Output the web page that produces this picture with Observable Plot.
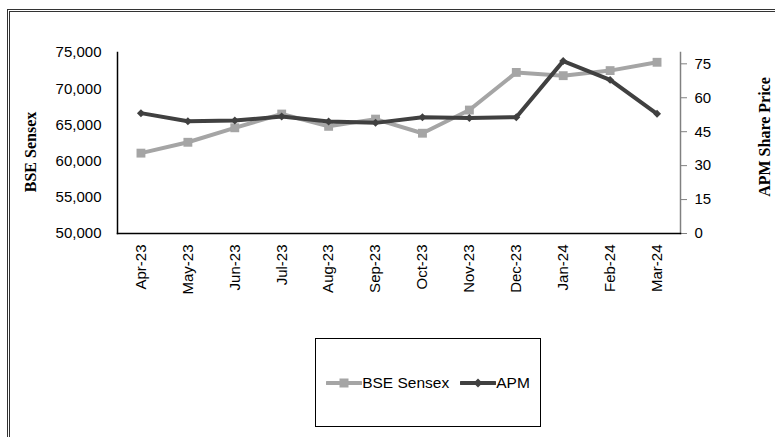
<!DOCTYPE html>
<html><head><meta charset="utf-8">
<script src="https://cdn.jsdelivr.net/npm/d3@7"></script>
<script src="https://cdn.jsdelivr.net/npm/@observablehq/plot@0.6"></script>
<style>
body{margin:0;background:#fff;}
#wrap{position:relative;width:775px;height:437px;overflow:hidden;font-family:"Liberation Sans",Arial,sans-serif;background:#fff;}
#wrap svg.plot{position:absolute;left:0;top:0;}
#frame{position:absolute;left:7px;top:9px;width:800px;height:500px;border-top:3px double #333;border-left:3px double #333;box-sizing:border-box;}
.ytitle{position:absolute;font-family:"Liberation Serif","DejaVu Serif",serif;font-weight:bold;font-size:16px;white-space:nowrap;transform:translate(-50%,-50%) rotate(-90deg);color:#000;}
#legend{position:absolute;left:315px;top:338px;width:226px;height:89px;border:1.5px solid #000;box-sizing:border-box;display:flex;align-items:center;justify-content:center;font-size:15.5px;color:#000;gap:0;}
#legend .item{display:flex;align-items:center;}
#legend svg{display:block;}
</style></head><body><div id="wrap"><div id="frame"></div></div>
<script>
const months = ["Apr-23","May-23","Jun-23","Jul-23","Aug-23","Sep-23","Oct-23","Nov-23","Dec-23","Jan-24","Feb-24","Mar-24"];
const bseValues = [61100, 62600, 64600, 66500, 64800, 65800, 63850, 67050, 72250, 71800, 72500, 73650];
const apmValues = [53.2, 49.6, 49.9, 51.7, 49.5, 48.9, 51.4, 51.1, 51.4, 76.2, 67.9, 52.9];
const leftTicks = [50000, 55000, 60000, 65000, 70000, 75000];
const rightTicks = [0, 15, 30, 45, 60, 75];
const seriesNames = ["BSE Sensex", "APM"];
const leftTitle = "BSE Sensex";
const rightTitle = "APM Share Price";

const LEFT_MIN = 50000, LEFT_MAX = 75000, RIGHT_MIN = 0, RIGHT_MAX = 80;
const toLeft = v => LEFT_MIN + (v - RIGHT_MIN) / (RIGHT_MAX - RIGHT_MIN) * (LEFT_MAX - LEFT_MIN);
const fromLeft = d => RIGHT_MIN + (d - LEFT_MIN) / (LEFT_MAX - LEFT_MIN) * (RIGHT_MAX - RIGHT_MIN);

const bse = months.map((m, i) => ({month: m, value: bseValues[i]}));
const apm = months.map((m, i) => ({month: m, value: toLeft(apmValues[i])}));

const BSE_COLOR = "#a5a5a5", APM_COLOR = "#404040";

const chart = Plot.plot({
  width: 775, height: 437,
  marginLeft: 117, marginRight: 95, marginTop: 52, marginBottom: 204,
  style: {fontFamily: '"Liberation Sans", Arial, sans-serif', fontSize: "15px", color: "#000", background: "transparent", overflow: "visible"},
  x: {type: "point", domain: months, padding: 0.5, round: false},
  y: {domain: [LEFT_MIN, LEFT_MAX]},
  marks: [
    Plot.axisY({ticks: leftTicks, tickSize: 0, tickPadding: 16, tickFormat: d3.format(","), label: null, fontSize: 15}),
    Plot.axisY({anchor: "right", ticks: rightTicks.map(toLeft), tickFormat: d => Math.round(fromLeft(d)), tickSize: 6, tickPadding: 8, stroke: "#808080", label: null, fontSize: 15}),
    Plot.axisX({tickRotate: -90, tickSize: 0, tickPadding: 11, label: null, fontSize: 15}),
    Plot.frame({anchor: "left", stroke: "#000", strokeWidth: 1.5}),
    Plot.frame({anchor: "right", stroke: "#808080", strokeWidth: 1.5}),
    Plot.frame({anchor: "bottom", stroke: "#000", strokeWidth: 1.5}),
    Plot.line(bse, {x: "month", y: "value", stroke: BSE_COLOR, strokeWidth: 4}),
    Plot.dot(bse, {x: "month", y: "value", symbol: "square", r: 5, fill: BSE_COLOR, stroke: "none"}),
    Plot.line(apm, {x: "month", y: "value", stroke: APM_COLOR, strokeWidth: 4}),
    Plot.dot(apm, {x: "month", y: "value", symbol: "diamond2", r: 3.6, fill: APM_COLOR, stroke: "none"})
  ]
});
const wrap = document.getElementById("wrap");
wrap.appendChild(chart);

function addTitle(text, x, y) {
  const d = document.createElement("div");
  d.className = "ytitle";
  d.textContent = text;
  d.style.left = x + "px";
  d.style.top = y + "px";
  wrap.appendChild(d);
}
addTitle(leftTitle, 31, 152);
addTitle(rightTitle, 765, 137);

const legend = document.createElement("div");
legend.id = "legend";
const swatch = (color, type) => {
  const svg = d3.create("svg").attr("width", 36).attr("height", 12);
  svg.append("line").attr("x1", 1).attr("x2", 35).attr("y1", 6).attr("y2", 6).attr("stroke", color).attr("stroke-width", 4).attr("stroke-linecap", "round");
  if (type === "square") svg.append("rect").attr("x", 13.5).attr("y", 1.5).attr("width", 9).attr("height", 9).attr("fill", color);
  else svg.append("path").attr("d", "M18,1.5L22.5,6L18,10.5L13.5,6Z").attr("fill", color);
  return svg.node();
};
[[seriesNames[0], BSE_COLOR, "square"], [seriesNames[1], APM_COLOR, "diamond"]].forEach(([name, color, type], i) => {
  const it = document.createElement("div");
  it.className = "item";
  if (i > 0) it.style.marginLeft = "11px";
  it.appendChild(swatch(color, type));
  const s = document.createElement("span");
  s.textContent = name;
  it.appendChild(s);
  legend.appendChild(it);
});
wrap.appendChild(legend);
</script>
</body></html>
